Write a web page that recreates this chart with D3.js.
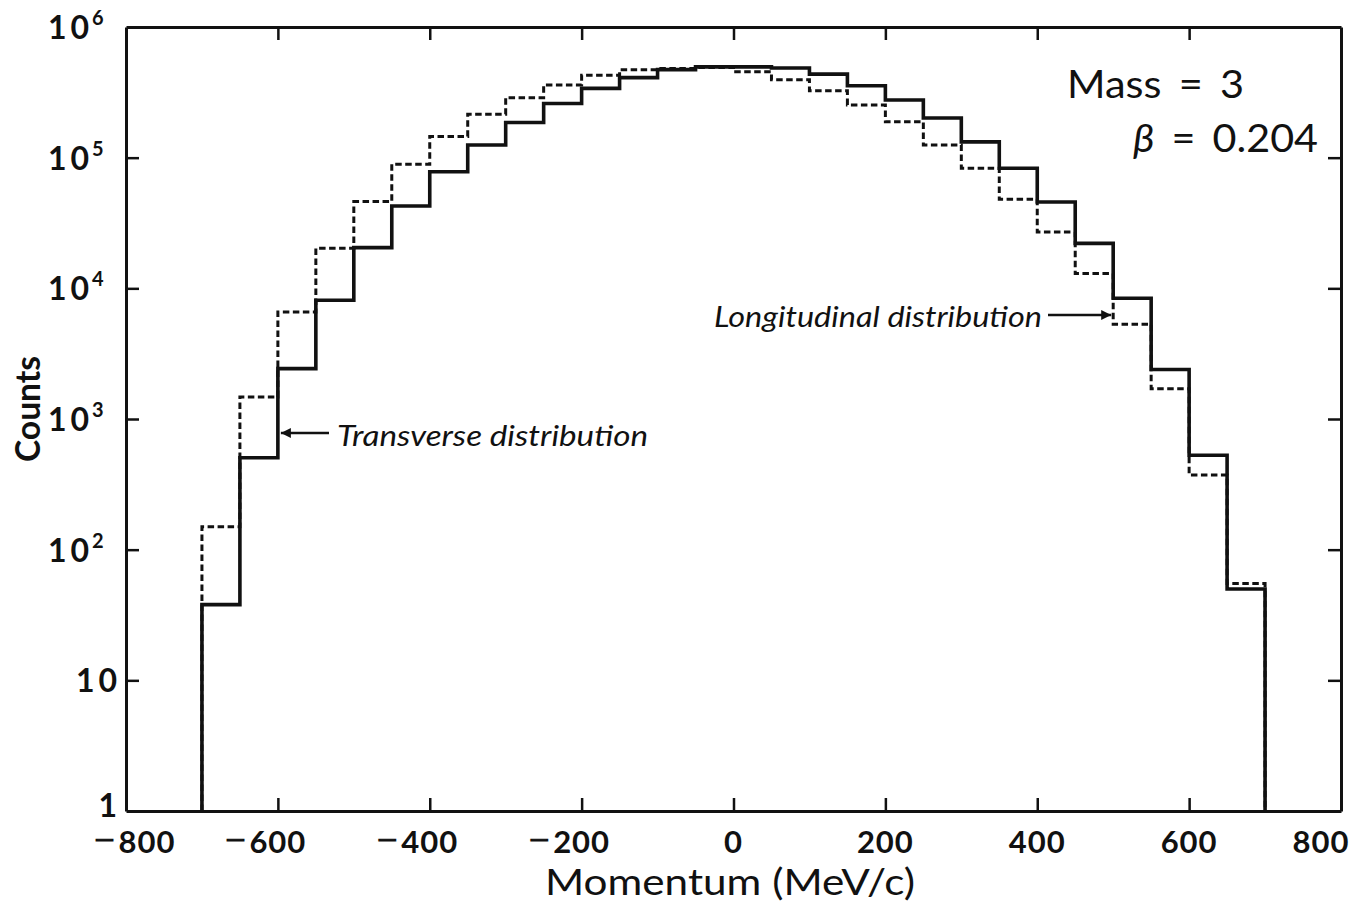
<!DOCTYPE html>
<html>
<head>
<meta charset="utf-8">
<script src="https://cdn.jsdelivr.net/npm/d3@7/dist/d3.min.js"></script>
<style>
  body { margin: 0; background: #fff; }
  svg { display: block; }
  text { font-family: Lato, "Open Sans", sans-serif; fill: #111; }
</style>
</head>
<body>
<div id="chart"></div>
<script>
// lower edge of each 50 MeV/c bin
const binStart = [-700, -650, -600, -550, -500, -450, -400, -350, -300, -250, -200, -150, -100, -50,
                  0, 50, 100, 150, 200, 250, 300, 350, 400, 450, 500, 550, 600, 650];
const binWidth = 50;

// solid line
const transverse = [38, 505, 2430, 8100, 20500, 42700, 78000, 125000, 186000, 260000, 339000, 410000, 472000, 495000,
                    495000, 485000, 436000, 355000, 276000, 201000, 132000, 83000, 45800, 22100, 8400, 2390, 528, 50];
// dashed line
const longitudinal = [150, 1476, 6600, 20300, 46100, 89000, 145000, 215000, 288000, 360000, 428000, 471000, 482000, 490000,
                      455000, 395000, 325000, 253000, 188000, 125000, 83000, 48000, 27000, 13000, 5300, 1706, 373, 55];

const xTicks = [-800, -600, -400, -200, 0, 200, 400, 600, 800];
const yTicks = [1, 10, 100, 1000, 10000, 100000, 1000000];
const yTickBase = ["1", "10", "10", "10", "10", "10", "10"];
const yTickExp = ["", "", "2", "3", "4", "5", "6"];

function drawChart(containerId) {
    const width = 1355, height = 908;

    const x = d3.scaleLinear().domain([-800, 800]).range([126, 1341]);
    const y = d3.scaleLog().domain([1, 1e6]).range([811, 27]);

    const svg = d3.select(`#${containerId}`)
        .append("svg")
        .attr("width", width)
        .attr("height", height);

    // frame + inward ticks on all four sides
    const tickLen = 13;
    const styleAxis = g => {
        g.select(".domain").attr("stroke", "#111").attr("stroke-width", 3);
        g.selectAll(".tick line").attr("stroke", "#111").attr("stroke-width", 2.5);
    };

    const xInner = xTicks.slice(1, -1);

    svg.append("g")
        .attr("transform", `translate(0,${y(1)})`)
        .call(d3.axisBottom(x).tickValues(xInner).tickSize(-tickLen).tickSizeOuter(0).tickFormat(""))
        .call(styleAxis);

    svg.append("g")
        .attr("transform", `translate(0,${y(1e6)})`)
        .call(d3.axisTop(x).tickValues(xInner).tickSize(-tickLen).tickSizeOuter(0).tickFormat(""))
        .call(styleAxis);

    svg.append("g")
        .attr("transform", `translate(${x(-800)},0)`)
        .call(d3.axisLeft(y).tickValues(yTicks.slice(1, -1)).tickSize(-tickLen).tickSizeOuter(0).tickFormat(""))
        .call(styleAxis);

    svg.append("g")
        .attr("transform", `translate(${x(800)},0)`)
        .call(d3.axisRight(y).tickValues(yTicks.slice(1, -1)).tickSize(-tickLen).tickSizeOuter(0).tickFormat(""))
        .call(styleAxis);

    // x tick labels: digits centred on the tick, long minus hanging to the left
    const labelX = d => x(d) + (d === -800 ? 21 : d === 800 ? -20 : 0);
    const xl = svg.append("g").selectAll("g")
        .data(xTicks)
        .enter()
        .append("g");
    xl.append("text")
        .attr("x", labelX)
        .attr("y", 853)
        .attr("text-anchor", "middle")
        .attr("font-size", "31px")
        .attr("font-weight", "bold")
        .attr("letter-spacing", "1px")
        .text(d => Math.abs(d));
    xl.filter(d => d < 0).append("text")
        .attr("x", d => labelX(d) - 31)
        .attr("y", 846)
        .attr("text-anchor", "end")
        .attr("font-size", "21px")
        .attr("font-weight", "bold")
        .attr("stroke", "#111")
        .attr("stroke-width", 1)
        .attr("textLength", 23)
        .attr("lengthAdjust", "spacingAndGlyphs")
        .text("\u2013");

    // y tick labels with superscript exponents
    const yl = svg.append("g").selectAll("text")
        .data(yTicks)
        .enter()
        .append("text")
        .attr("x", (d, i) => yTickExp[i] ? 93 : 121)
        .attr("y", d => d === 1 ? y(d) + 6 : y(d) + 12)
        .attr("text-anchor", "end")
        .attr("font-size", "32px")
        .attr("font-weight", "bold")
        .attr("letter-spacing", "4px");
    yl.append("tspan").text((d, i) => yTickBase[i]);
    yl.append("tspan")
        .attr("x", 92)
        .attr("dy", -14)
        .attr("text-anchor", "start")
        .attr("font-size", "20px")
        .attr("letter-spacing", "0px")
        .text((d, i) => yTickExp[i]);

    // histograms as steps
    const step = d3.line()
        .x(d => x(d[0]))
        .y(d => y(d[1]))
        .curve(d3.curveStepAfter);

    const stepPoints = vals => {
        const pts = [[binStart[0], 1]];
        binStart.forEach((b, i) => pts.push([b, vals[i]]));
        const end = binStart[binStart.length - 1] + binWidth;
        pts.push([end, vals[vals.length - 1]]);
        pts.push([end, 1]);
        return pts;
    };

    svg.append("path")
        .attr("d", step(stepPoints(longitudinal)))
        .attr("fill", "none")
        .attr("stroke", "#111")
        .attr("stroke-width", 3)
        .attr("stroke-dasharray", "6.5,3.5");

    svg.append("path")
        .attr("d", step(stepPoints(transverse)))
        .attr("fill", "none")
        .attr("stroke", "#111")
        .attr("stroke-width", 3.6);

    // axis titles
    svg.append("text")
        .attr("transform", "translate(40,409) rotate(-90)")
        .attr("text-anchor", "middle")
        .attr("font-size", "34px")
        .attr("font-weight", "bold")
        .attr("textLength", 106)
        .attr("lengthAdjust", "spacingAndGlyphs")
        .text("Counts");

    svg.append("text")
        .attr("x", 545)
        .attr("y", 895)
        .attr("font-size", "37px")
        .attr("textLength", 370)
        .attr("lengthAdjust", "spacingAndGlyphs")
        .text("Momentum (MeV/c)");

    // parameters
    svg.append("text")
        .attr("x", 1067)
        .attr("y", 98)
        .attr("font-size", "38px")
        .attr("textLength", 177)
        .attr("lengthAdjust", "spacingAndGlyphs")
        .attr("word-spacing", "6px")
        .text("Mass = 3");

    svg.append("text")
        .attr("x", 1133)
        .attr("y", 152)
        .attr("font-size", "38px")
        .attr("textLength", 185)
        .attr("lengthAdjust", "spacingAndGlyphs")
        .attr("word-spacing", "6px")
        .html('<tspan font-style="italic">\u03B2</tspan> = 0.204');

    // annotations with arrows
    svg.append("defs").append("marker")
        .attr("id", "head")
        .attr("viewBox", "0 0 10 10")
        .attr("refX", 10)
        .attr("refY", 5)
        .attr("markerWidth", 15)
        .attr("markerHeight", 10)
        .attr("markerUnits", "userSpaceOnUse")
        .attr("orient", "auto")
        .append("path")
        .attr("d", "M0,0 L10,5 L0,10 z")
        .attr("fill", "#111");

    svg.append("text")
        .attr("x", 714)
        .attr("y", 327)
        .attr("font-size", "29px")
        .attr("font-style", "italic")
        .attr("textLength", 328)
        .attr("lengthAdjust", "spacingAndGlyphs")
        .text("Longitudinal distribution");

    svg.append("line")
        .attr("x1", 1048).attr("x2", x(binStart[24]) - 2)
        .attr("y1", 315).attr("y2", 315)
        .attr("stroke", "#111").attr("stroke-width", 2.5)
        .attr("marker-end", "url(#head)");

    svg.append("text")
        .attr("x", 337)
        .attr("y", 446)
        .attr("font-size", "29px")
        .attr("font-style", "italic")
        .attr("textLength", 311)
        .attr("lengthAdjust", "spacingAndGlyphs")
        .text("Transverse distribution");

    svg.append("line")
        .attr("x1", 329).attr("x2", x(binStart[2]) + 3)
        .attr("y1", 433).attr("y2", 433)
        .attr("stroke", "#111").attr("stroke-width", 2.5)
        .attr("marker-end", "url(#head)");
}

drawChart("chart");
</script>
</body>
</html>
